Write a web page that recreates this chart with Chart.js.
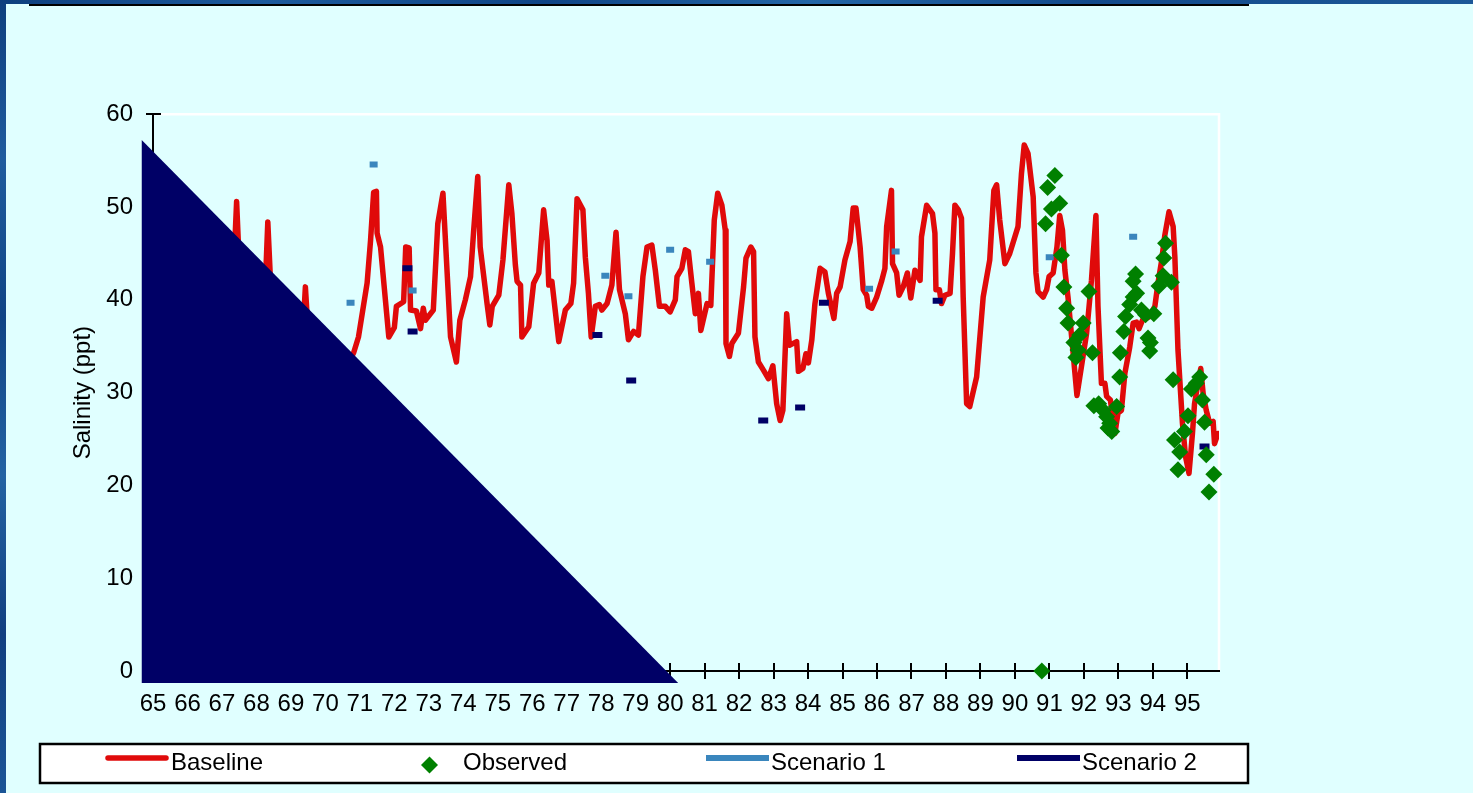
<!DOCTYPE html>
<html>
<head>
<meta charset="utf-8">
<title>Salinity (ppt)</title>
<script src="https://cdn.jsdelivr.net/npm/chart.js@4.4.1/dist/chart.umd.min.js"></script>
<style>
  html, body { margin: 0; padding: 0; width: 1473px; height: 793px; overflow: hidden; background: #e0ffff; }
  #edgeTop { position: absolute; left: 0; top: 0; width: 1473px; height: 4px;
    background: linear-gradient(90deg, #0e3f7e 0%, #1d5a9c 18%, #0f4485 37%, #2466a6 55%, #12498a 74%, #1c5898 100%); }
  #edgeLeft { position: absolute; left: 0; top: 0; width: 6px; height: 793px;
    background: linear-gradient(180deg, #0e3f7e 0%, #1f5c9e 20%, #0f4485 40%, #2363a3 60%, #113f80 80%, #1b5596 100%); }
  #topRule { position: absolute; left: 29px; top: 4px; width: 1220px; height: 2px; background: #000; }
  #chart { position: absolute; left: 0; top: 0; }
</style>
</head>
<body>
<div id="edgeTop"></div>
<div id="edgeLeft"></div>
<div id="topRule"></div>
<canvas id="chart" width="1473" height="793"></canvas>
<script>
// Year axis (two-digit years) and salinity axis ticks
const yearTicks = [65, 66, 67, 68, 69, 70, 71, 72, 73, 74, 75, 76, 77, 78, 79, 80,
                   81, 82, 83, 84, 85, 86, 87, 88, 89, 90, 91, 92, 93, 94, 95];
const salinityTicks = [0, 10, 20, 30, 40, 50, 60];

// Baseline simulated salinity (ppt)
const baseX = [
  65.00, 65.40, 65.80, 66.10, 66.50, 66.90, 67.28, 67.425, 67.57, 67.90,
  68.21, 68.33, 68.47, 68.80, 69.31, 69.42, 69.54, 70.00, 70.50, 70.82,
  70.96, 71.21, 71.31, 71.40, 71.48, 71.50, 71.60, 71.84, 72.00, 72.06,
  72.27, 72.33, 72.43, 72.47, 72.64, 72.76, 72.84, 72.90, 73.13, 73.26,
  73.41, 73.63, 73.80, 73.90, 74.06, 74.21, 74.30, 74.42, 74.49, 74.69,
  74.77, 74.84, 75.03, 75.15, 75.32, 75.41, 75.51, 75.56, 75.66, 75.70,
  75.90, 76.04, 76.19, 76.33, 76.43, 76.48, 76.57, 76.77, 76.96, 77.12,
  77.20, 77.30, 77.47, 77.54, 77.63, 77.71, 77.83, 77.95, 78.02, 78.17,
  78.31, 78.43, 78.53, 78.70, 78.79, 78.94, 79.08, 79.21, 79.33, 79.47,
  79.57, 79.69, 79.86, 80.00, 80.15, 80.20, 80.34, 80.44, 80.53, 80.63,
  80.73, 80.82, 80.89, 81.07, 81.18, 81.28, 81.38, 81.50, 81.60, 81.62,
  81.72, 81.79, 81.98, 82.13, 82.20, 82.34, 82.42, 82.46, 82.56, 82.71,
  82.85, 82.98, 83.09, 83.19, 83.27, 83.38, 83.46, 83.67, 83.72, 83.85,
  83.94, 84.01, 84.11, 84.20, 84.35, 84.49, 84.59, 84.75, 84.83, 84.93,
  85.07, 85.22, 85.31, 85.39, 85.51, 85.60, 85.70, 85.75, 85.85, 85.99,
  86.14, 86.23, 86.28, 86.42, 86.45, 86.57, 86.64, 86.76, 86.88, 86.98,
  87.10, 87.25, 87.29, 87.44, 87.61, 87.68, 87.71, 87.81, 87.87, 87.97,
  88.12, 88.19, 88.26, 88.36, 88.45, 88.50, 88.60, 88.69, 88.89, 89.08,
  89.27, 89.39, 89.47, 89.56, 89.71, 89.85, 90.09, 90.19, 90.27, 90.38,
  90.53, 90.61, 90.67, 90.82, 90.92, 90.99, 91.11, 91.22, 91.30, 91.38,
  91.45, 91.54, 91.69, 91.80, 91.93, 92.08, 92.22, 92.35, 92.41, 92.51,
  92.61, 92.66, 92.77, 92.90, 92.99, 93.09, 93.19, 93.33, 93.43, 93.53,
  93.60, 93.70, 93.91, 94.06, 94.15, 94.25, 94.35, 94.47, 94.59, 94.64,
  94.73, 94.86, 94.95, 95.05, 95.15, 95.21, 95.31, 95.39, 95.46, 95.55,
  95.65, 95.75, 95.79, 95.89
];
const baseY = [
  38.5, 36.0, 41.0, 37.0, 39.5, 36.5, 38.0, 50.6, 38.0, 36.0,
  37.0, 48.4, 37.0, 35.0, 34.0, 41.4, 34.0, 33.5, 32.0, 34.3,
  36.0, 41.8, 46.4, 51.6, 51.7, 47.2, 45.7, 36.0, 37.0, 39.3,
  39.8, 45.7, 45.6, 38.9, 38.8, 36.9, 39.1, 37.8, 38.9, 48.2,
  51.5, 36.0, 33.3, 37.8, 40.0, 42.5, 47.4, 53.3, 45.7, 39.6,
  37.3, 39.3, 40.5, 44.3, 52.4, 49.3, 43.8, 42.0, 41.6, 36.0,
  37.1, 41.8, 42.9, 49.7, 46.4, 41.6, 42.0, 35.5, 38.9, 39.6,
  41.8, 50.9, 49.7, 44.6, 40.7, 36.0, 39.3, 39.5, 38.9, 39.6,
  41.6, 47.3, 41.1, 38.5, 35.7, 36.6, 36.2, 42.5, 45.7, 45.9,
  43.2, 39.3, 39.3, 38.7, 40.0, 42.5, 43.4, 45.4, 45.2, 41.8,
  38.5, 40.7, 36.7, 39.6, 39.4, 48.6, 51.5, 50.2, 47.5, 35.3,
  33.9, 35.3, 36.4, 41.4, 44.5, 45.7, 45.2, 36.0, 33.3, 32.4,
  31.5, 32.9, 28.8, 27.0, 28.1, 38.5, 35.1, 35.5, 32.3, 32.6,
  34.2, 33.2, 35.7, 39.6, 43.4, 43.0, 40.7, 38.0, 40.7, 41.4,
  44.3, 46.3, 49.9, 49.9, 45.7, 41.1, 40.5, 39.3, 39.1, 40.3,
  42.1, 43.4, 47.9, 51.8, 43.9, 42.9, 40.5, 41.4, 42.9, 40.2,
  43.2, 42.1, 46.8, 50.2, 49.3, 47.2, 41.1, 41.1, 39.6, 40.5,
  40.7, 45.0, 50.2, 49.7, 48.8, 40.3, 28.8, 28.5, 31.7, 40.3,
  44.3, 51.8, 52.4, 48.6, 43.9, 45.0, 47.9, 53.6, 56.7, 55.8,
  51.1, 42.9, 40.9, 40.3, 41.1, 42.5, 42.9, 45.7, 49.1, 47.5,
  43.2, 40.3, 34.2, 29.7, 32.8, 36.4, 42.1, 49.1, 39.3, 31.0,
  31.0, 29.6, 29.2, 25.6, 27.8, 28.1, 32.1, 34.9, 37.5, 37.6,
  36.9, 37.8, 38.2, 39.3, 41.8, 44.1, 47.0, 49.5, 47.9, 44.6,
  34.6, 26.7, 23.1, 21.3, 25.6, 28.8, 31.0, 32.6, 29.9, 28.1,
  26.7, 26.9, 24.5, 25.6
];

// Observed salinity samples (ppt)
const obsX = [
  90.78, 90.89, 90.95, 91.06, 91.16, 91.30, 91.35, 91.42, 91.50, 91.54,
  91.71, 91.77, 91.83, 91.88, 91.98, 92.15, 92.25, 92.29, 92.43, 92.56,
  92.66, 92.70, 92.75, 92.81, 92.95, 93.04, 93.06, 93.16, 93.21, 93.33,
  93.43, 93.43, 93.50, 93.53, 93.67, 93.79, 93.86, 93.91, 93.93, 94.03,
  94.18, 94.30, 94.32, 94.37, 94.54, 94.59, 94.63, 94.73, 94.78, 94.92,
  95.02, 95.12, 95.26, 95.36, 95.44, 95.50, 95.55, 95.63, 95.77
];
const obsY = [
  0.0, 48.2, 52.1, 49.8, 53.4, 50.4, 44.8, 41.4, 39.1, 37.5,
  35.4, 33.8, 34.6, 36.2, 37.5, 40.9, 34.3, 28.6, 28.8, 28.1,
  27.4, 26.2, 26.7, 25.8, 28.5, 31.7, 34.3, 36.6, 38.2, 39.5,
  40.3, 42.0, 42.8, 40.7, 38.9, 38.4, 35.9, 34.5, 35.4, 38.5,
  41.5, 42.6, 44.5, 46.1, 41.9, 31.4, 24.9, 21.7, 23.6, 25.8,
  27.5, 30.4, 31.0, 31.7, 29.2, 26.8, 23.3, 19.3, 21.2
];

// Scenario runs (ppt)
const sc1X = [70.73, 71.40, 72.53, 78.12, 78.79, 80.00, 81.16, 85.77, 86.54, 91.01, 93.43];
const sc1Y = [39.7, 54.6, 41.0, 42.6, 40.4, 45.4, 44.1, 41.2, 45.2, 44.6, 46.8];
const sc2X = [72.38, 72.53, 77.89, 78.87, 82.70, 83.77, 84.46, 87.76, 95.50];
const sc2Y = [43.4, 36.6, 36.2, 31.3, 27.0, 28.4, 39.7, 39.9, 24.2];

// Dark corner panel, in axis units (year, ppt)
const shadeX = [64.673, 64.673, 80.233];
const shadeY = [57.22, -1.29, -1.29];

const pairs = (xs, ys) => xs.map((v, i) => ({ x: v, y: ys[i] }));
const FONT = '"Liberation Sans", Arial, Helvetica, sans-serif';

const axisDecor = {
  id: 'axisDecor',
  beforeDraw(chart) {
    const { ctx, chartArea: a } = chart;
    ctx.save();
    ctx.strokeStyle = '#ffffff';
    ctx.lineWidth = 2.5;
    ctx.beginPath();
    ctx.moveTo(a.left, a.top);
    ctx.lineTo(a.right, a.top);
    ctx.lineTo(a.right, a.bottom);
    ctx.stroke();
    ctx.restore();
  },
  beforeDatasetsDraw(chart) {
    // inner half of the crossing tick marks
    const { ctx, chartArea: a, scales: { x, y } } = chart;
    ctx.save();
    ctx.strokeStyle = '#000';
    ctx.lineWidth = 2;
    ctx.beginPath();
    x.ticks.forEach(t => {
      const px = Math.round(x.getPixelForValue(t.value));
      ctx.moveTo(px, a.bottom);
      ctx.lineTo(px, a.bottom - 8);
    });
    y.ticks.forEach(t => {
      const py = Math.round(y.getPixelForValue(t.value));
      ctx.moveTo(a.left, py);
      ctx.lineTo(a.left + 8, py);
    });
    ctx.stroke();
    ctx.restore();
  },
  afterDatasetsDraw(chart) {
    const { ctx, scales: { x, y } } = chart;
    ctx.save();
    ctx.fillStyle = '#000066';
    ctx.beginPath();
    shadeX.forEach((v, i) => {
      const px = x.getPixelForValue(v), py = y.getPixelForValue(shadeY[i]);
      if (i === 0) ctx.moveTo(px, py); else ctx.lineTo(px, py);
    });
    ctx.closePath();
    ctx.fill();
    ctx.restore();
  },
  afterDraw(chart, args, opts) {
    // boxed legend below the axis
    const { ctx } = chart;
    const b = opts.box;
    ctx.save();
    ctx.fillStyle = '#ffffff';
    ctx.fillRect(b.left, b.top, b.right - b.left, b.bottom - b.top);
    ctx.strokeStyle = '#000';
    ctx.lineWidth = 2.5;
    ctx.strokeRect(b.left, b.top, b.right - b.left, b.bottom - b.top);
    ctx.font = '24px ' + FONT;
    ctx.textBaseline = 'middle';
    ctx.textAlign = 'left';
    chart.data.datasets.forEach((ds, i) => {
      const sx = opts.slots[i];
      const ly = b.top + 14;
      if (ds.legendKind === 'diamond') {
        const cx = sx + 31.5, cy = b.top + 21;
        ctx.fillStyle = ds.backgroundColor;
        ctx.beginPath();
        ctx.moveTo(cx, cy - 8.5); ctx.lineTo(cx + 8.5, cy); ctx.lineTo(cx, cy + 8.5); ctx.lineTo(cx - 8.5, cy);
        ctx.closePath();
        ctx.fill();
      } else {
        ctx.strokeStyle = ds.borderColor;
        ctx.lineWidth = ds.legendKind === 'round' ? 5.5 : 6;
        ctx.lineCap = ds.legendKind === 'round' ? 'round' : 'butt';
        ctx.beginPath();
        ctx.moveTo(sx + (ds.legendKind === 'round' ? 2 : 0), ly);
        ctx.lineTo(sx + (ds.legendKind === 'round' ? 60 : 63), ly);
        ctx.stroke();
      }
      ctx.fillStyle = '#000';
      ctx.fillText(ds.label, sx + 65, b.top + 19);
    });
    ctx.restore();
  }
};

new Chart(document.getElementById('chart'), {
  data: {
    datasets: [
      {
        type: 'line', label: 'Baseline', legendKind: 'round',
        data: pairs(baseX, baseY),
        borderColor: '#e00a0a', borderWidth: 5.5, pointRadius: 0,
        borderJoinStyle: 'round', borderCapStyle: 'round', tension: 0,
        fill: false, order: 3
      },
      {
        type: 'scatter', label: 'Observed', legendKind: 'diamond',
        data: pairs(obsX, obsY),
        pointStyle: 'rectRot', pointRadius: 8.5, pointBorderWidth: 0,
        backgroundColor: '#008000', borderColor: '#008000',
        clip: false, order: 0
      },
      {
        type: 'scatter', label: 'Scenario 1', legendKind: 'bar',
        data: pairs(sc1X, sc1Y),
        pointStyle: 'line', pointRadius: 4, pointBorderWidth: 6,
        borderColor: '#3a86bd', backgroundColor: '#3a86bd', order: 1
      },
      {
        type: 'scatter', label: 'Scenario 2', legendKind: 'bar',
        data: pairs(sc2X, sc2Y),
        pointStyle: 'line', pointRadius: 5, pointBorderWidth: 6,
        borderColor: '#000066', backgroundColor: '#000066', order: 2
      }
    ]
  },
  options: {
    responsive: false,
    animation: false,
    devicePixelRatio: 1,
    layout: { padding: { left: 0, top: 114.3, right: 254, bottom: 0 } },
    plugins: {
      legend: { display: false },
      tooltip: { enabled: false },
      axisDecor: {
        box: { left: 40, top: 744, right: 1248, bottom: 783 },
        slots: [106, 398, 706, 1017]
      }
    },
    scales: {
      x: {
        type: 'linear', min: 65, max: 95.92,
        afterBuildTicks: s => { s.ticks = yearTicks.map(v => ({ value: v })); },
        afterFit: s => { s.height = 122; },
        ticks: {
          autoSkip: false, maxRotation: 0, minRotation: 0, padding: 11,
          color: '#000', font: { family: FONT, size: 24 },
          callback: v => String(v)
        },
        grid: { drawOnChartArea: false, tickLength: 8, color: '#000', lineWidth: 2 },
        border: { display: true, color: '#000', width: 2 }
      },
      y: {
        type: 'linear', min: 0, max: 60,
        afterBuildTicks: s => { s.ticks = salinityTicks.map(v => ({ value: v })); },
        afterFit: s => { s.width = 153; },
        ticks: {
          padding: 13, color: '#000', font: { family: FONT, size: 24 },
          callback: v => String(v)
        },
        grid: { drawOnChartArea: false, tickLength: 7, color: '#000', lineWidth: 2 },
        border: { display: true, color: '#000', width: 2 },
        title: {
          display: true, text: 'Salinity (ppt)', color: '#000',
          font: { family: FONT, size: 24 },
          padding: { top: 68.6, bottom: 0 }
        }
      }
    }
  },
  plugins: [axisDecor]
});
</script>
</body>
</html>
